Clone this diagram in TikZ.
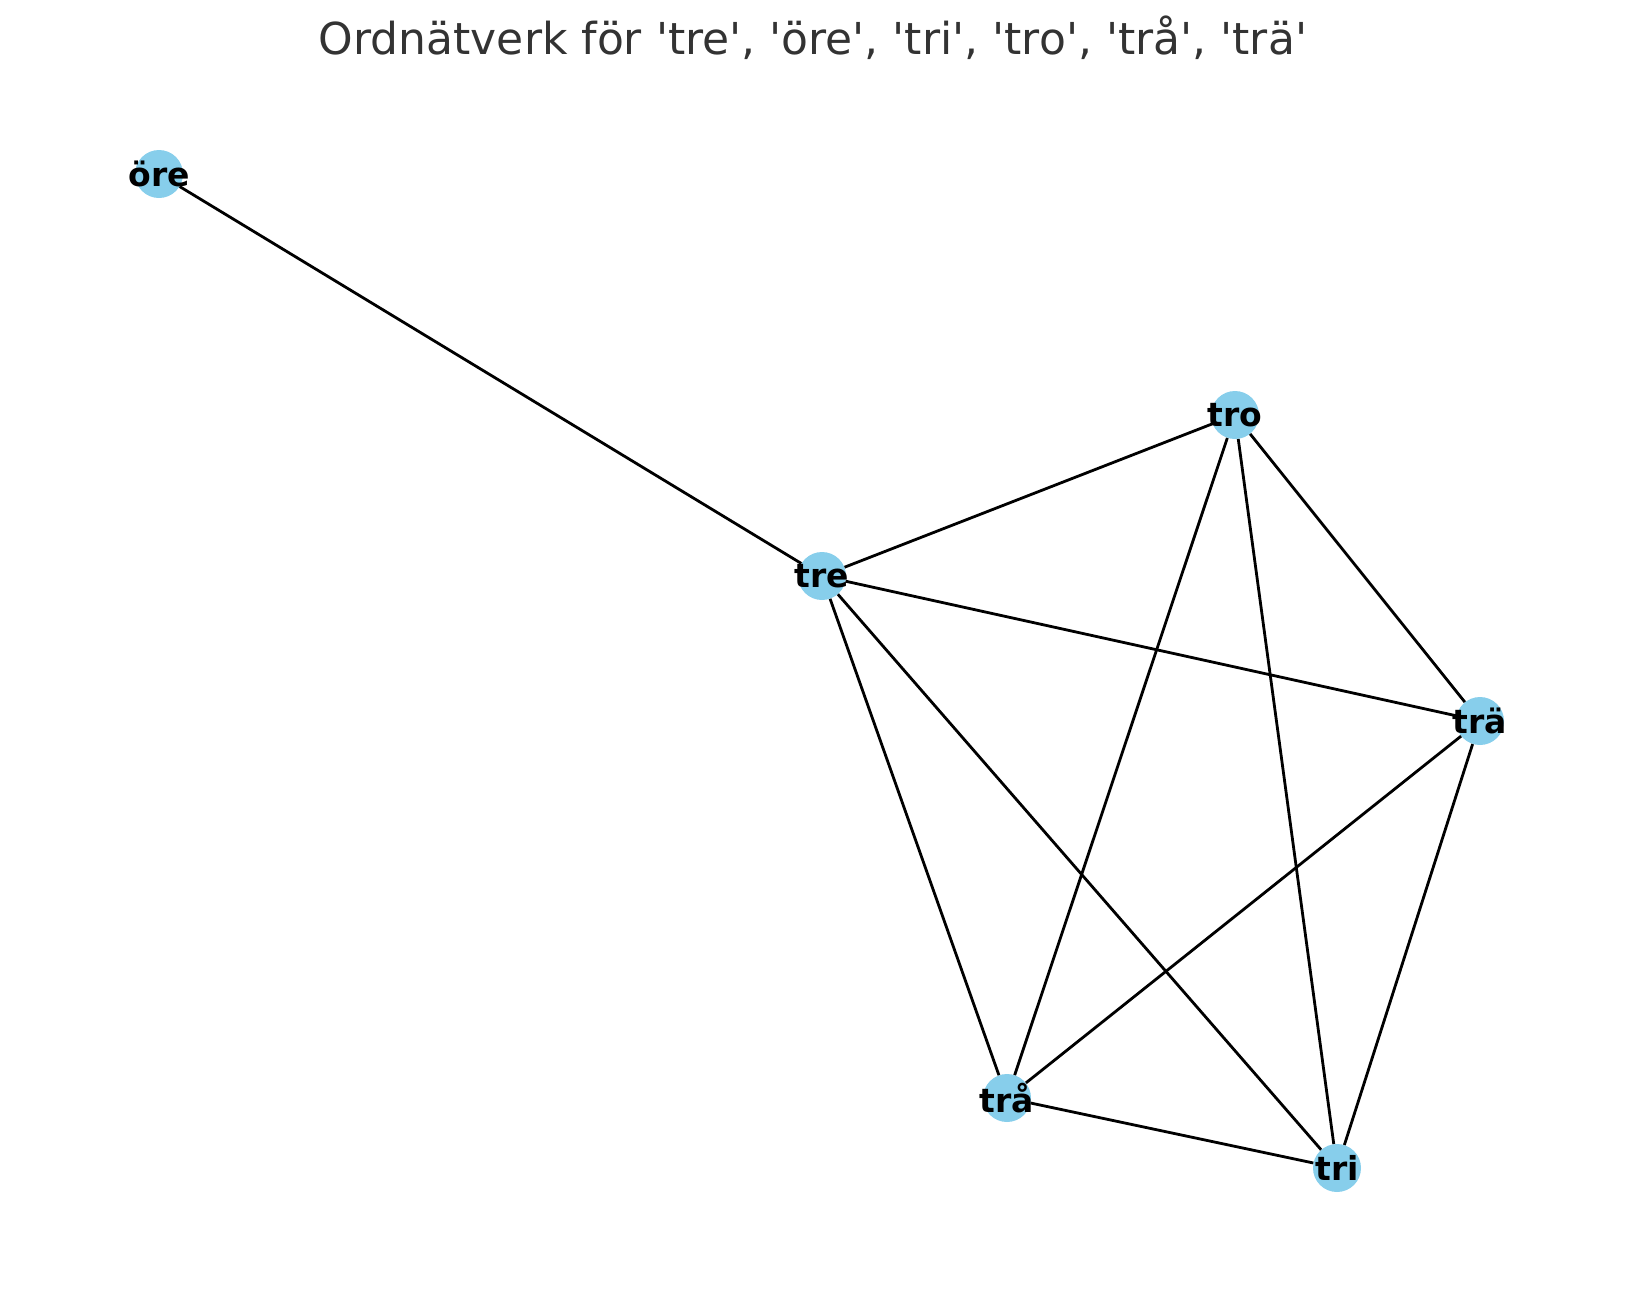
\documentclass[tikz,border=0pt]{standalone}
\usepackage{fontspec}
\setmainfont{DejaVu Sans}[Ligatures=TeXOff]
\usepackage{tikz}
\definecolor{skyblue}{HTML}{87CEEB}
\definecolor{titlegray}{HTML}{333333}
\tikzset{
  word/.style={circle, fill=skyblue, minimum size=48pt, inner sep=0pt},
  wordtext/.style={font=\fontsize{33}{38}\selectfont\bfseries, inner sep=0pt},
  link/.style={line width=2.8pt, black}
}

\begin{document}
\begin{tikzpicture}[x=1pt,y=-1pt]
\useasboundingbox (0,0) rectangle (1639,1291);
\node[text=titlegray, font=\fontsize{44}{52}\selectfont, anchor=base] (title) at (813,54) {Ordnätverk för 'tre', 'öre', 'tri', 'tro', 'trå', 'trä'};
% words
\node[word, label={[wordtext]center:öre}] (ore) at (159,174) {};
\node[word, label={[wordtext]center:tro}] (tro) at (1235,415) {};
\node[word, label={[wordtext]center:tre}] (tre) at (822,576) {};
\node[word, label={[wordtext]center:trä}] (tra) at (1480,721) {};
\node[word, label={[wordtext]center:trå}] (trr) at (1007,1098) {};
\node[word, label={[wordtext]center:tri}] (tri) at (1337,1168) {};
% links
\draw[link] (ore) -- (tre);
\draw[link] (tre) -- (tro);
\draw[link] (tre) -- (tra);
\draw[link] (tre) -- (trr);
\draw[link] (tre) -- (tri);
\draw[link] (tro) -- (trr);
\draw[link] (tro) -- (tri);
\draw[link] (tro) -- (tra);
\draw[link] (tra) -- (trr);
\draw[link] (tra) -- (tri);
\draw[link] (trr) -- (tri);
\end{tikzpicture}
\end{document}
